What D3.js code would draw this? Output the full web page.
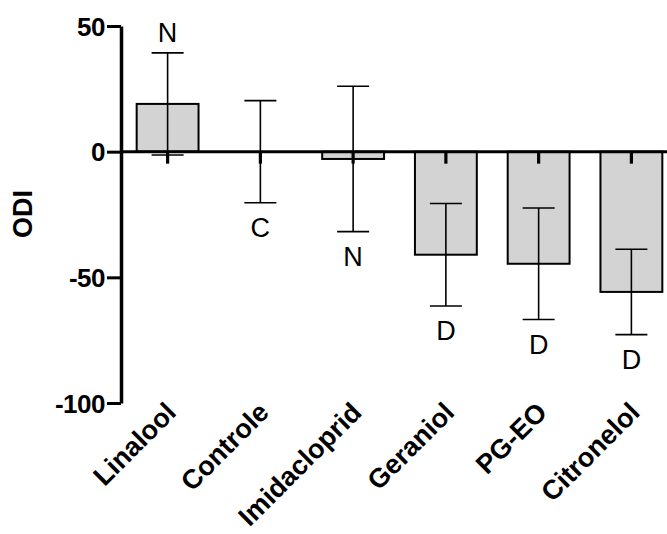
<!DOCTYPE html>
<html>
<head>
<meta charset="utf-8">
<script src="https://cdn.jsdelivr.net/npm/d3@7"></script>
<style>
  body { margin: 0; background: #fff; }
  svg { display: block; font-family: "Liberation Sans", Arial, sans-serif; }
</style>
</head>
<body>
<div id="chart"></div>
<script>
// ODI per treatment, mean +/- error
var categories = ["Linalool", "Controle", "Imidacloprid", "Geraniol", "PG-EO", "Citronelol"];
var means = [19, 0, -2.9, -41, -44.6, -55.8];
var errors = [20.3, 20.3, 28.9, 20.4, 22.2, 17];
var letters = ["N", "C", "N", "D", "D", "D"];
var letterAbove = [true, false, false, false, false, false];
var yTicks = [50, 0, -50, -100];

const width = 667, height = 534;

const svg = d3.select("#chart")
    .append("svg")
    .attr("width", width)
    .attr("height", height);

const axisX = 121;

const xScale = d3.scaleBand()
    .domain(categories)
    .range([axisX, 678])
    .paddingInner(0.333)
    .paddingOuter(0.169);

const yScale = d3.scaleLinear()
    .domain([-100, 50])
    .range([403, 26]);

const y0 = yScale(0);

// bars
svg.selectAll(".bar")
    .data(categories)
    .enter()
    .append("rect")
    .attr("class", "bar")
    .attr("x", d => xScale(d))
    .attr("width", xScale.bandwidth())
    .attr("y", (d, i) => Math.min(yScale(means[i]), y0))
    .attr("height", (d, i) => Math.abs(yScale(means[i]) - y0))
    .style("fill", "#d3d3d3")
    .style("stroke", "#000")
    .style("stroke-width", 2);

// error bars
const capW = 32;
const eb = svg.append("g").style("stroke", "#000").style("stroke-width", 1.6);
categories.forEach(function (c, i) {
    var cx = xScale(c) + xScale.bandwidth() / 2;
    var hi = yScale(means[i] + errors[i]), lo = yScale(means[i] - errors[i]);
    eb.append("line").attr("x1", cx).attr("x2", cx).attr("y1", hi).attr("y2", lo);
    eb.append("line").attr("x1", cx - capW / 2).attr("x2", cx + capW / 2).attr("y1", hi).attr("y2", hi);
    eb.append("line").attr("x1", cx - capW / 2).attr("x2", cx + capW / 2).attr("y1", lo).attr("y2", lo);
});

// x axis at zero with short downward ticks
svg.append("line")
    .attr("x1", axisX).attr("x2", width)
    .attr("y1", y0).attr("y2", y0)
    .style("stroke", "#000").style("stroke-width", 3);

svg.selectAll(".xtick")
    .data(categories)
    .enter()
    .append("line")
    .attr("class", "xtick")
    .attr("x1", d => xScale(d) + xScale.bandwidth() / 2)
    .attr("x2", d => xScale(d) + xScale.bandwidth() / 2)
    .attr("y1", y0)
    .attr("y2", y0 + 12)
    .style("stroke", "#000").style("stroke-width", 3.2);

// y axis
const yAxis = svg.append("g")
    .attr("transform", `translate(${axisX},0)`)
    .call(d3.axisLeft(yScale).tickValues(yTicks).tickSize(14).tickSizeOuter(0).tickPadding(2)
        .tickFormat(d => String(d)));
yAxis.select(".domain").style("stroke", "#000").style("stroke-width", 3.5);
yAxis.selectAll(".tick line").style("stroke", "#000").style("stroke-width", 3);
yAxis.selectAll(".tick text")
    .style("font-size", "26px")
    .style("font-weight", "bold")
    .style("letter-spacing", "-0.5px")
    .attr("dy", "0.35em")
    .attr("fill", "#000");

// y label
svg.append("text")
    .attr("transform", "translate(32,214) rotate(-90)")
    .attr("text-anchor", "middle")
    .style("font-size", "27px")
    .style("font-weight", "bold")
    .text("ODI");

// category labels
svg.selectAll(".xlabel")
    .data(categories)
    .enter()
    .append("text")
    .attr("class", "xlabel")
    .attr("text-anchor", "end")
    .attr("transform", d => `translate(${xScale(d) + xScale.bandwidth() / 2 + 10},414) rotate(-45)`)
    .style("font-size", "27px")
    .style("font-weight", "bold")
    .text(d => d);

// significance letters
svg.selectAll(".letter")
    .data(categories)
    .enter()
    .append("text")
    .attr("class", "letter")
    .attr("text-anchor", "middle")
    .attr("x", d => xScale(d) + xScale.bandwidth() / 2)
    .attr("y", function (d, i) {
        if (letterAbove[i]) return yScale(means[i] + errors[i]) - 11;
        return yScale(means[i] - errors[i]) + 34;
    })
    .style("font-size", "27px")
    .text((d, i) => letters[i]);
</script>
</body>
</html>
